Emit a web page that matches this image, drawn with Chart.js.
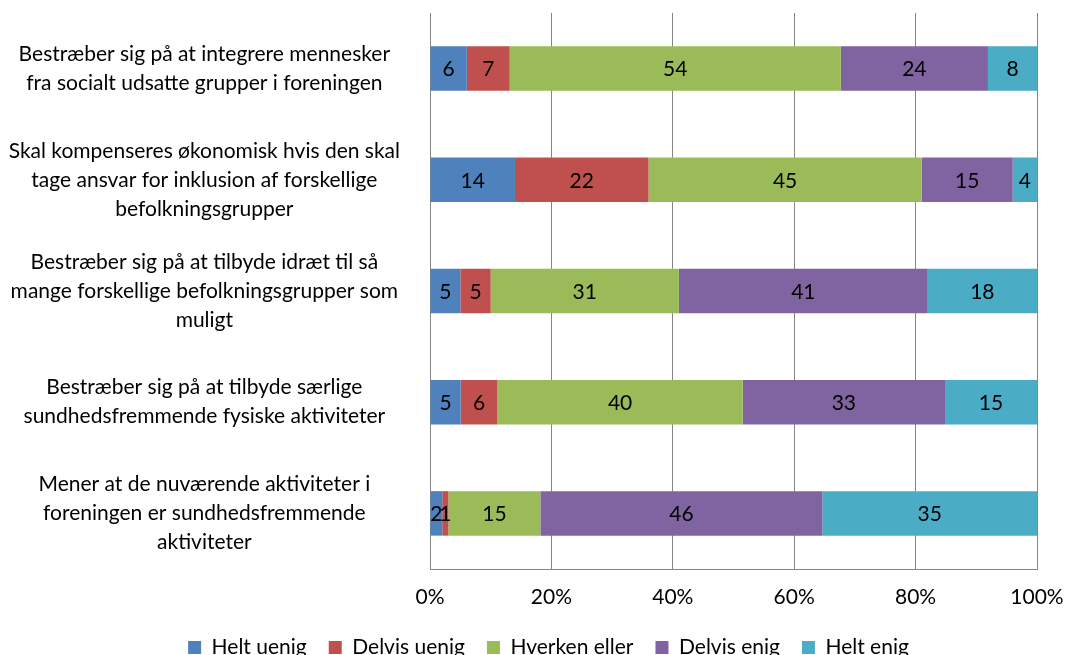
<!doctype html>
<html lang="da">
    <head>
        <meta charset="utf-8">
        <title>Foreningernes holdninger</title>
        <script src="https://cdn.jsdelivr.net/npm/chart.js@4/dist/chart.umd.min.js"></script>
        <style>
            html, body { margin: 0; padding: 0; background: #fff; overflow: hidden; }
            #wrap { width: 1066px; height: 668px; }
        </style>
    </head>
    <body>
        <div id="wrap"><canvas id="myChart" width="1066" height="668"></canvas></div>
        <script>
            // categories (one array of lines per label)
            var Categories = [
                ["Bestræber sig på at integrere mennesker", "fra socialt udsatte grupper i foreningen"],
                ["Skal kompenseres økonomisk hvis den skal", "tage ansvar for inklusion af forskellige", "befolkningsgrupper"],
                ["Bestræber sig på at tilbyde idræt til så", "mange forskellige befolkningsgrupper som", "muligt"],
                ["Bestræber sig på at tilbyde særlige", "sundhedsfremmende fysiske aktiviteter"],
                ["Mener at de nuværende aktiviteter i", "foreningen er sundhedsfremmende", "aktiviteter"]
            ];

            // series values (percent of answers, as printed on the bars)
            var HeltUenig   = [6, 14, 5, 5, 2];
            var DelvisUenig = [7, 22, 5, 6, 1];
            var Hverken     = [54, 45, 31, 40, 15];
            var DelvisEnig  = [24, 15, 41, 33, 46];
            var HeltEnig    = [8, 4, 18, 15, 35];

            var SeriesNames = ["Helt uenig", "Delvis uenig", "Hverken eller", "Delvis enig", "Helt enig"];
            var TickLabels = ["0%", "20%", "40%", "60%", "80%", "100%"];

            var Colors = ["#4F81BD", "#C0504D", "#9BBB59", "#8064A2", "#4BACC6"];
            var FONT = "Lato, 'Open Sans', sans-serif";

            var raw = [HeltUenig, DelvisUenig, Hverken, DelvisEnig, HeltEnig];
            // 100% stacked: each row is scaled to its own total
            var totals = Categories.map(function(c, i) {
                return raw.reduce(function(s, arr) { return s + arr[i]; }, 0);
            });

            var datasets = raw.map(function(arr, k) {
                return {
                    label: SeriesNames[k],
                    data: arr.map(function(v, i) { return v / totals[i] * 100; }),
                    rawValues: arr,
                    backgroundColor: Colors[k],
                    borderWidth: 0,
                    barPercentage: 0.4,
                    categoryPercentage: 1.0
                };
            });

            // draw the value in the middle of each segment
            var valueLabels = {
                id: "valueLabels",
                afterLayout: function(chart) {
                    // legend sits a bit right of the canvas centre
                    if (chart.legend) {
                        chart.legend.left += 30;
                        chart.legend.right += 30;
                    }
                },
                afterDatasetsDraw: function(chart) {
                    var ctx = chart.ctx;
                    ctx.save();
                    ctx.font = "21px " + FONT;
                    ctx.fillStyle = "#000";
                    ctx.textAlign = "center";
                    ctx.textBaseline = "middle";
                    chart.data.datasets.forEach(function(ds, k) {
                        chart.getDatasetMeta(k).data.forEach(function(bar, i) {
                            var cx = (bar.x + bar.base) / 2;
                            ctx.fillText(String(ds.rawValues[i]), cx, bar.y + 1);
                        });
                    });
                    ctx.restore();
                }
            };

            var ctx = document.getElementById("myChart").getContext("2d");
            var myChart = new Chart(ctx, {
                type: "bar",
                data: { labels: Categories, datasets: datasets },
                options: {
                    indexAxis: "y",
                    responsive: false,
                    animation: false,
                    layout: { padding: { top: 13, right: 29, left: 0, bottom: 0 } },
                    scales: {
                        x: {
                            stacked: true,
                            min: 0,
                            max: 100,
                            afterFit: function(scale) {
                                scale.paddingRight = 0;
                                scale.paddingLeft = 0;
                                scale.height = 46;
                            },
                            ticks: {
                                stepSize: 20,
                                padding: 16,
                                color: "#000",
                                font: { family: FONT, size: 21 },
                                callback: function(v, i) { return TickLabels[i]; }
                            },
                            grid: { color: "#868686", lineWidth: 1, drawTicks: false },
                            border: { color: "#868686" }
                        },
                        y: {
                            stacked: true,
                            afterFit: function(scale) {
                                scale.width = 430;
                                scale.paddingTop = 0;
                                scale.paddingBottom = 0;
                            },
                            ticks: {
                                crossAlign: "center",
                                padding: 22,
                                color: "#000",
                                font: { family: FONT, size: 21, lineHeight: 1.38 }
                            },
                            grid: { display: false },
                            border: { color: "#868686" }
                        }
                    },
                    plugins: {
                        tooltip: { enabled: false },
                        legend: {
                            position: "bottom",
                            labels: {
                                boxWidth: 13,
                                boxHeight: 13,
                                padding: 22,
                                color: "#000",
                                font: { family: FONT, size: 21 }
                            }
                        }
                    }
                },
                plugins: [valueLabels]
            });
        </script>
    </body>
</html>
